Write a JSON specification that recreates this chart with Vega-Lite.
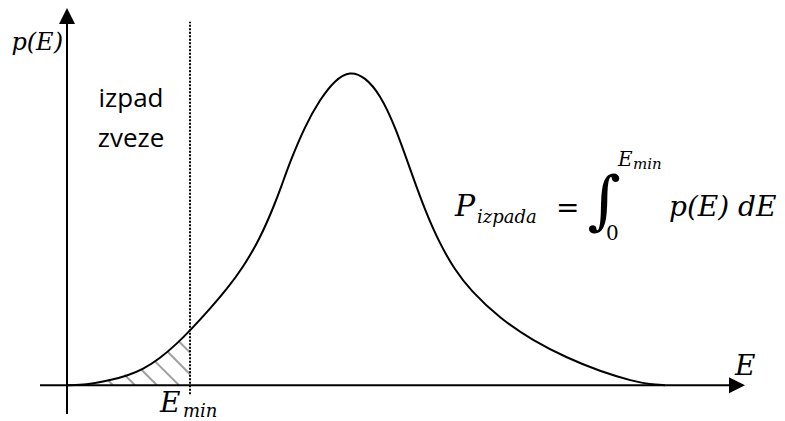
{
  "$schema": "https://vega.github.io/schema/vega-lite/v6.json",
  "width": 785,
  "height": 421,
  "padding": 0,
  "autosize": {"type": "fit", "contains": "padding"},
  "background": "white",
  "config": {"view": {"stroke": null}},
  "encoding": {
    "x": {"field": "x", "type": "quantitative", "scale": {"domain": [-67, 718], "nice": false, "zero": false}, "axis": null},
    "y": {"field": "y", "type": "quantitative", "scale": {"domain": [-33, 388], "nice": false, "zero": false}, "axis": null}
  },
  "layer": [
    {
      "data": {"values": [
        {"x": 40.5, "y": 5.5, "x2": 46, "y2": 0},
        {"x": 57.5, "y": 10.5, "x2": 68, "y2": 0},
        {"x": 73.7, "y": 16.3, "x2": 90, "y2": 0},
        {"x": 88, "y": 24, "x2": 112, "y2": 0},
        {"x": 100.7, "y": 33.7, "x2": 123, "y2": 11},
        {"x": 112, "y": 44, "x2": 123, "y2": 33}
      ]},
      "mark": {"type": "rule", "color": "#a0a0a0", "strokeWidth": 2},
      "encoding": {"x2": {"field": "x2"}, "y2": {"field": "y2"}}
    },
    {
      "data": {"values": [
        {"x": 0, "y": 0}, {"x": 13, "y": 0.3}, {"x": 26, "y": 1.8}, {"x": 43, "y": 5},
        {"x": 60, "y": 9.5}, {"x": 76, "y": 16}, {"x": 93, "y": 27}, {"x": 110, "y": 42},
        {"x": 123, "y": 55}, {"x": 143, "y": 77}, {"x": 160, "y": 97}, {"x": 176, "y": 118.5},
        {"x": 193, "y": 148}, {"x": 206, "y": 178}, {"x": 215, "y": 202}, {"x": 223, "y": 225},
        {"x": 238, "y": 261}, {"x": 253, "y": 288}, {"x": 268, "y": 307.5}, {"x": 283, "y": 316.5},
        {"x": 298, "y": 310.5}, {"x": 313, "y": 293}, {"x": 328, "y": 261}, {"x": 343, "y": 218},
        {"x": 358, "y": 176}, {"x": 373, "y": 142}, {"x": 388, "y": 116}, {"x": 403, "y": 96},
        {"x": 433, "y": 67}, {"x": 466, "y": 45}, {"x": 500, "y": 27.5}, {"x": 533, "y": 14},
        {"x": 566, "y": 4}, {"x": 583, "y": 1}, {"x": 598, "y": 0}
      ]},
      "mark": {"type": "line", "interpolate": "basis", "color": "black", "strokeWidth": 2}
    },
    {
      "data": {"values": [
        {"x": -27, "y": 0, "x2": 668, "y2": 0},
        {"x": 0, "y": -29, "x2": 0, "y2": 368}
      ]},
      "mark": {"type": "rule", "color": "black", "strokeWidth": 2},
      "encoding": {"x2": {"field": "x2"}, "y2": {"field": "y2"}}
    },
    {
      "data": {"values": [{"x": 123, "y": -9, "x2": 123, "y2": 366}]},
      "mark": {"type": "rule", "color": "black", "strokeWidth": 2, "strokeDash": [2, 1.5]},
      "encoding": {"x2": {"field": "x2"}, "y2": {"field": "y2"}}
    },
    {
      "data": {"values": [{"x": 0, "y": 372}]},
      "mark": {"type": "point", "shape": "M0,-1L-1,1L1,1Z", "size": 256, "filled": true, "color": "black", "opacity": 1, "strokeWidth": 0}
    },
    {
      "data": {"values": [{"x": 670, "y": 0}]},
      "mark": {"type": "point", "shape": "M1,0L-1,-1L-1,1Z", "size": 256, "filled": true, "color": "black", "opacity": 1, "strokeWidth": 0}
    },
    {
      "data": {"values": [{"x": -4, "y": 338, "t": "p(E)"}]},
      "mark": {"type": "text", "font": "DejaVu Serif", "fontStyle": "italic", "fontSize": 24, "align": "right", "baseline": "alphabetic", "color": "black"},
      "encoding": {"text": {"field": "t"}}
    },
    {
      "data": {"values": [{"x": 64, "y": 280, "t": "izpad"}, {"x": 64, "y": 240, "t": "zveze"}]},
      "mark": {"type": "text", "font": "Open Sans", "fontSize": 26, "align": "center", "baseline": "alphabetic", "color": "black"},
      "encoding": {"text": {"field": "t"}}
    },
    {
      "data": {"values": [
        {"x": 93, "y": -27, "t": "E"},
        {"x": 668, "y": 10, "t": "E"},
        {"x": 602, "y": 170, "t": "p(E) dE"}
      ]},
      "mark": {"type": "text", "font": "DejaVu Serif", "fontStyle": "italic", "fontSize": 28, "align": "left", "baseline": "alphabetic", "color": "black"},
      "encoding": {"text": {"field": "t"}}
    },
    {
      "data": {"values": [{"x": 388, "y": 170, "t": "P"}]},
      "mark": {"type": "text", "font": "DejaVu Serif", "fontStyle": "italic", "fontSize": 30, "align": "left", "baseline": "alphabetic", "color": "black"},
      "encoding": {"text": {"field": "t"}}
    },
    {
      "data": {"values": [{"x": 116, "y": -32, "t": "min"}, {"x": 410, "y": 163, "t": "izpada"}]},
      "mark": {"type": "text", "font": "DejaVu Serif", "fontStyle": "italic", "fontSize": 18, "align": "left", "baseline": "alphabetic", "color": "black"},
      "encoding": {"text": {"field": "t"}}
    },
    {
      "data": {"values": [{"x": 551, "y": 221, "t": "E"}]},
      "mark": {"type": "text", "font": "DejaVu Serif", "fontStyle": "italic", "fontSize": 20, "align": "left", "baseline": "alphabetic", "color": "black"},
      "encoding": {"text": {"field": "t"}}
    },
    {
      "data": {"values": [{"x": 566, "y": 218, "t": "min"}]},
      "mark": {"type": "text", "font": "DejaVu Serif", "fontStyle": "italic", "fontSize": 15, "align": "left", "baseline": "alphabetic", "color": "black"},
      "encoding": {"text": {"field": "t"}}
    },
    {
      "data": {"values": [{"x": 489, "y": 169, "t": "="}]},
      "mark": {"type": "text", "font": "DejaVu Serif", "fontSize": 28, "align": "left", "baseline": "alphabetic", "color": "black"},
      "encoding": {"text": {"field": "t"}}
    },
    {
      "data": {"values": [{"x": 539, "y": 146, "t": "0"}]},
      "mark": {"type": "text", "font": "DejaVu Serif", "fontSize": 20, "align": "left", "baseline": "alphabetic", "color": "black"},
      "encoding": {"text": {"field": "t"}}
    },
    {
      "data": {"values": [{"x": 537, "y": 164.5, "t": "∫"}]},
      "mark": {"type": "text", "font": "DejaVu Serif", "fontSize": 64, "align": "center", "baseline": "alphabetic", "color": "black"},
      "encoding": {"text": {"field": "t"}}
    }
  ]
}
